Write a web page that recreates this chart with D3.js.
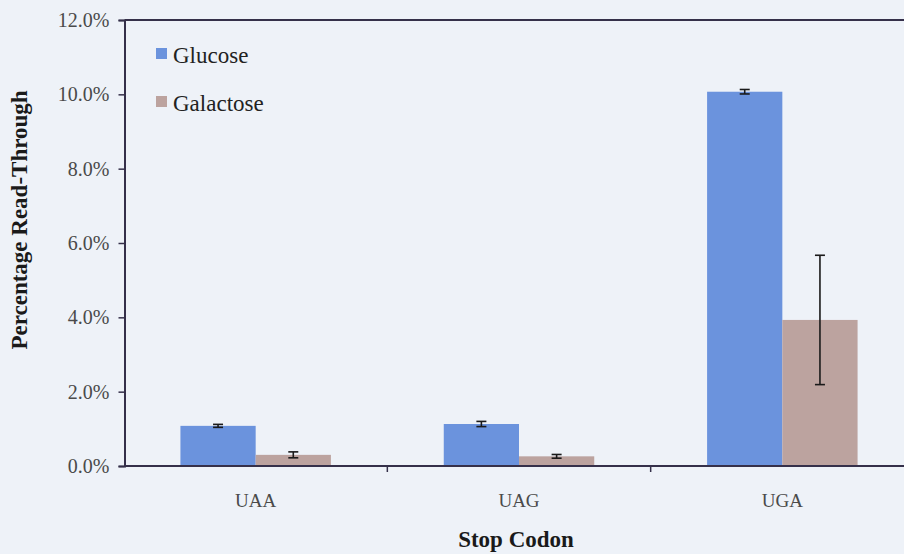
<!DOCTYPE html>
<html>
<head>
<meta charset="utf-8">
<script src="https://cdn.jsdelivr.net/npm/d3@7"></script>
<style>
  html, body { margin: 0; padding: 0; background: #eef2f8; }
  svg { display: block; }
</style>
</head>
<body>
<svg id="chart" width="904" height="554" font-family="Liberation Serif, Times New Roman, serif"></svg>
<script>
// Read-through percentages per stop codon and carbon source
const codons = ["UAA", "UAG", "UGA"];
const seriesNames = ["Glucose", "Galactose"];
const glucose = [1.08, 1.13, 10.07];
const glucoseErr = [0.04, 0.07, 0.06];
const galactose = [0.30, 0.26, 3.93];
const galactoseErr = [0.08, 0.05, 1.74];
const yTicks = [0, 2, 4, 6, 8, 10, 12];
const colors = ["#6b93dd", "#bca39f"];

const serif = "Liberation Serif, Times New Roman, serif";
const svg = d3.select("#chart");
const plotLeft = 124.5, plotTop = 20, plotBottom = 466;

const x = d3.scaleBand().domain(codons).range([124, 914]).paddingInner(0).paddingOuter(0);
const xSeries = d3.scaleBand().domain(seriesNames).range([0, x.bandwidth()]).paddingInner(0).paddingOuter(0.75);
const y = d3.scaleLinear().domain([0, 12]).range([plotBottom, plotTop]);

const rows = codons.map((c, i) => ({
  codon: c,
  values: [
    { name: seriesNames[0], v: glucose[i], e: glucoseErr[i], color: colors[0] },
    { name: seriesNames[1], v: galactose[i], e: galactoseErr[i], color: colors[1] }
  ]
}));

// bars
const groups = svg.append("g").selectAll("g").data(rows).join("g")
  .attr("transform", d => `translate(${x(d.codon)},0)`);

groups.selectAll("rect").data(d => d.values).join("rect")
  .attr("x", d => xSeries(d.name))
  .attr("width", xSeries.bandwidth())
  .attr("y", d => y(d.v))
  .attr("height", d => y(0) - y(d.v))
  .attr("fill", d => d.color);

// error bars
const eb = groups.selectAll("g.err").data(d => d.values).join("g").attr("class", "err")
  .attr("stroke", "#1a1a1a").attr("stroke-width", 1.6);
const cx = d => xSeries(d.name) + xSeries.bandwidth() / 2;
eb.append("line").attr("x1", cx).attr("x2", cx)
  .attr("y1", d => y(d.v + d.e)).attr("y2", d => y(d.v - d.e));
eb.append("line").attr("x1", d => cx(d) - 5).attr("x2", d => cx(d) + 5)
  .attr("y1", d => y(d.v + d.e)).attr("y2", d => y(d.v + d.e));
eb.append("line").attr("x1", d => cx(d) - 5).attr("x2", d => cx(d) + 5)
  .attr("y1", d => y(d.v - d.e)).attr("y2", d => y(d.v - d.e));

// top border of plot area
svg.append("line").attr("x1", plotLeft).attr("x2", 904).attr("y1", plotTop).attr("y2", plotTop)
  .attr("stroke", "#35304a").attr("stroke-width", 2);

// y axis
const yAxis = d3.axisLeft(y).tickValues(yTicks).tickSize(6).tickPadding(9)
  .tickFormat(d => d3.format(".1f")(d) + "%");
const gy = svg.append("g").attr("transform", `translate(${plotLeft},0)`).call(yAxis)
  .attr("font-family", serif);
gy.select(".domain").attr("stroke", "#35304a").attr("stroke-width", 2);
gy.selectAll(".tick line").attr("stroke", "#35304a").attr("stroke-width", 1.5);
gy.selectAll(".tick text").attr("font-size", 20).attr("fill", "#4a4a4a");

// x axis
const xAxis = d3.axisBottom(x).tickSize(0).tickPadding(28);
const gx = svg.append("g").attr("transform", `translate(0,${plotBottom})`).call(xAxis)
  .attr("font-family", serif);
gx.select(".domain").remove();
gx.append("line").attr("x1", plotLeft).attr("x2", 904).attr("stroke", "#35304a").attr("stroke-width", 2);
gx.selectAll(".tick text").attr("font-size", 19).attr("fill", "#4a4a4a");
// separators between categories
gx.selectAll(".sep").data(codons.slice(1)).join("line").attr("class", "sep")
  .attr("x1", d => x(d)).attr("x2", d => x(d)).attr("y1", 0).attr("y2", 6)
  .attr("stroke", "#35304a").attr("stroke-width", 1.5);

// axis titles
svg.append("text").attr("x", 516).attr("y", 547).attr("text-anchor", "middle")
  .attr("font-family", serif).attr("font-size", 23).attr("font-weight", "bold")
  .attr("fill", "#1a1a1a").text("Stop Codon");
svg.append("text").attr("transform", "translate(27,220) rotate(-90)").attr("text-anchor", "middle")
  .attr("font-family", serif).attr("font-size", 23).attr("font-weight", "bold")
  .attr("fill", "#1a1a1a").text("Percentage Read-Through");

// legend
const legend = svg.append("g").selectAll("g").data(seriesNames).join("g")
  .attr("transform", (d, i) => `translate(156,${48 + i * 48})`);
legend.append("rect").attr("width", 11).attr("height", 11).attr("fill", (d, i) => colors[i]);
legend.append("text").attr("x", 17).attr("y", 14.5)
  .attr("font-family", serif).attr("font-size", 23).attr("fill", "#222")
  .text(d => d);
</script>
</body>
</html>
